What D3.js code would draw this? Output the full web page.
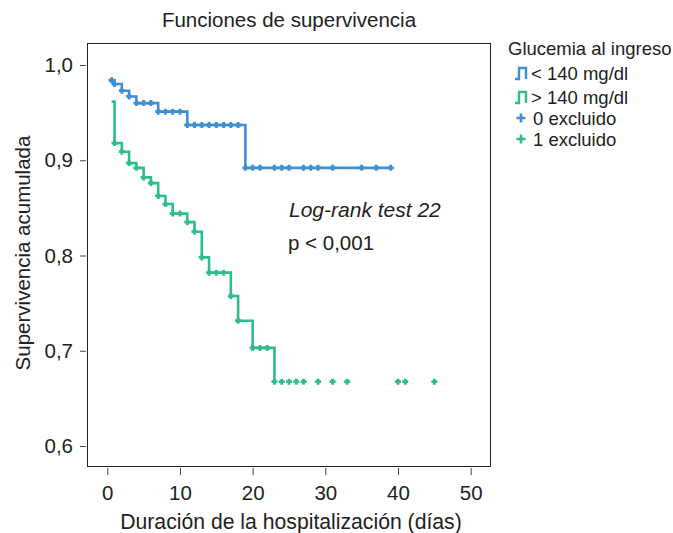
<!DOCTYPE html>
<html>
<head>
<meta charset="utf-8">
<script src="https://cdn.jsdelivr.net/npm/d3@7"></script>
<style>
  body { margin: 0; background: #fff; }
  text { font-family: "Liberation Sans", Arial, sans-serif; fill: #222; }
</style>
</head>
<body>
<div id="chart"></div>
<script>
// --- Datos ---
// < 140 mg/dl
const blueTimes = [0.6, 1, 2, 3, 4, 7, 11, 19];
const blueSurv  = [0.984, 0.980, 0.973, 0.967, 0.960, 0.951, 0.937, 0.892];
const blueEnd = 39;
const blueCens  = [0.6, 1, 2, 3, 4, 5, 6, 7, 8, 9, 10, 11, 12, 13, 14, 15, 16, 17, 18, 19,
                   20, 21, 23, 24, 25, 27, 28, 29, 31, 35, 37, 39];
// > 140 mg/dl
const greenTimes = [0.6, 1, 2, 3, 4, 5, 6, 7, 8, 9, 11, 12, 13, 14, 17, 18, 20, 23];
const greenSurv  = [0.9615, 0.918, 0.909, 0.897, 0.892, 0.882, 0.876, 0.8625, 0.854, 0.844,
                    0.835, 0.825, 0.798, 0.782, 0.7575, 0.7315, 0.703, 0.6675];
const greenEnd = 23;
const greenCens  = [1, 2, 3, 4, 5, 6, 7, 8, 9, 10, 11, 12, 13, 14, 15, 16, 17, 18, 20, 21, 22,
                    23, 24, 25, 26, 27, 29, 31, 33, 40, 41, 45];

const xTicks = [0, 10, 20, 30, 40, 50];
const yTicks = [0.6, 0.7, 0.8, 0.9, 1.0];
const legendLabels = ["< 140 mg/dl", "> 140 mg/dl", "0 excluido", "1 excluido"];

const BLUE = "#3f8fd2", GREEN = "#2fbd8b";
const FS = "20.5px", LFS = "18.5px";

// --- SVG ---
const W = 673, H = 533;
const svg = d3.select("#chart").append("svg")
  .attr("width", W).attr("height", H);

const frame = { left: 87, top: 43, right: 490, bottom: 466 };

const x = d3.scaleLinear().domain([0, 50]).range([107.3, 470.7]);
const y = d3.scaleLinear().domain([0.6, 1.0]).range([446, 65]);

// marco
svg.append("rect")
  .attr("x", frame.left + 0.5).attr("y", frame.top + 0.5)
  .attr("width", frame.right - frame.left).attr("height", frame.bottom - frame.top)
  .attr("fill", "none").attr("stroke", "#222").attr("stroke-width", 1);

// --- Ejes ---
const fmt = d => d3.format(".1f")(d).replace(".", ",");
const gx = svg.append("g")
  .attr("transform", `translate(0,${frame.bottom + 2})`)
  .call(d3.axisBottom(x).tickValues(xTicks).tickSize(7).tickPadding(10));
const gy = svg.append("g")
  .attr("transform", `translate(${frame.left - 1},0)`)
  .call(d3.axisLeft(y).tickValues(yTicks).tickFormat(fmt).tickSize(6).tickPadding(7));
[gx, gy].forEach(g => {
  g.select(".domain").remove();
  g.selectAll(".tick line").attr("stroke", "#444");
  g.selectAll(".tick text").style("font-size", FS)
    .style("font-family", "'Liberation Sans', Arial, sans-serif").attr("fill", "#222");
});

// --- Curvas ---
function stepData(times, surv, end) {
  const pts = times.map((t, i) => [t, surv[i]]);
  if (end > times[times.length - 1]) pts.push([end, surv[surv.length - 1]]);
  return pts;
}
function survAt(times, surv, t) {
  let s = surv[0];
  times.forEach((tt, i) => { if (tt <= t) s = surv[i]; });
  return s;
}
const line = d3.line().x(d => x(d[0])).y(d => y(d[1])).curve(d3.curveStepAfter);

const series = [
  { times: blueTimes, surv: blueSurv, end: blueEnd, cens: blueCens, color: BLUE },
  { times: greenTimes, surv: greenSurv, end: greenEnd, cens: greenCens, color: GREEN }
];

const plus = "M-3,0H3M0,-3V3";
series.forEach(s => {
  svg.append("path")
    .datum(stepData(s.times, s.surv, s.end))
    .attr("d", line)
    .attr("fill", "none")
    .attr("stroke", s.color)
    .attr("stroke-width", 2.6);

  svg.selectAll(null)
    .data(s.cens)
    .enter()
    .append("path")
      .attr("transform", t => `translate(${x(t)},${y(survAt(s.times, s.surv, t))})`)
      .attr("d", plus)
      .attr("stroke", s.color)
      .attr("stroke-width", 2.8);
});

// --- Textos ---
svg.append("text")
  .attr("x", 289).attr("y", 27)
  .attr("text-anchor", "middle")
  .style("font-size", FS)
  .text("Funciones de supervivencia");

svg.append("text")
  .attr("x", 291).attr("y", 529)
  .attr("text-anchor", "middle")
  .style("font-size", "21.2px")
  .text("Duración de la hospitalización (días)");

svg.append("text")
  .attr("transform", "rotate(-90)")
  .attr("x", -253).attr("y", 30)
  .attr("text-anchor", "middle")
  .style("font-size", FS)
  .text("Supervivencia acumulada");

svg.append("text")
  .attr("x", 289).attr("y", 217)
  .style("font-size", "21px").style("font-style", "italic")
  .text("Log-rank test 22");

svg.append("text")
  .attr("x", 288).attr("y", 250)
  .style("font-size", FS)
  .text("p < 0,001");

// --- Leyenda ---
const leg = svg.append("g");
leg.append("text")
  .attr("x", 508).attr("y", 54.5)
  .style("font-size", LFS)
  .text("Glucemia al ingreso");

const legRows = [
  { label: legendLabels[0], color: BLUE, type: "step", cy: 73 },
  { label: legendLabels[1], color: GREEN, type: "step", cy: 97 },
  { label: legendLabels[2], color: BLUE, type: "cens", cy: 118 },
  { label: legendLabels[3], color: GREEN, type: "cens", cy: 139 }
];
legRows.forEach(r => {
  if (r.type === "step") {
    leg.append("path")
      .attr("d", `M515,${r.cy + 6}H519V${r.cy - 5}H526V${r.cy + 6}`)
      .attr("fill", "none").attr("stroke", r.color).attr("stroke-width", 2.4);
  } else {
    leg.append("path")
      .attr("transform", `translate(521,${r.cy})`)
      .attr("d", "M-4.5,0H4.5M0,-4.5V4.5")
      .attr("stroke", r.color).attr("stroke-width", 2.6);
  }
  leg.append("text")
    .attr("x", r.type === "step" ? 531 : 533).attr("y", r.cy + 6.5)
    .style("font-size", LFS)
    .text(r.label);
});
</script>
</body>
</html>
